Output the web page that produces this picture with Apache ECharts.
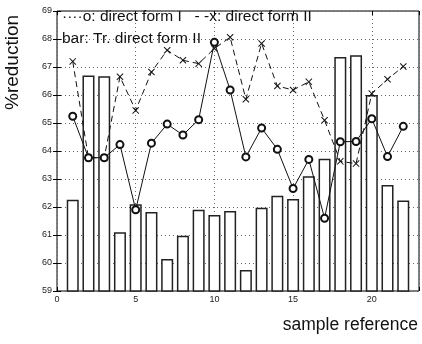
<!DOCTYPE html>
<html>
<head>
<meta charset="utf-8">
<style>
  html, body { margin: 0; padding: 0; background: #fff; }
  #main { width: 422px; height: 344px; }
</style>
</head>
<body>
<div id="main"></div>
<script src="https://cdn.jsdelivr.net/npm/echarts@6/dist/echarts.min.js"></script>
<script>
// sample reference numbers 1..22
var samples = [1, 2, 3, 4, 5, 6, 7, 8, 9, 10, 11, 12, 13, 14, 15, 16, 17, 18, 19, 20, 21, 22];
// o: direct form I
var formI = [65.24, 63.76, 63.76, 64.23, 61.9, 64.28, 64.96, 64.57, 65.12, 67.88, 66.18,
             63.79, 64.82, 64.06, 62.66, 63.7, 61.6, 64.33, 64.34, 65.15, 63.8, 64.88];
// x: direct form II
var formII = [67.2, 63.76, 63.76, 66.65, 65.45, 66.82, 67.6, 67.24, 67.12, 67.66, 68.06,
              65.85, 67.84, 66.32, 66.18, 66.47, 65.1, 63.63, 63.55, 66.05, 66.56, 67.02];
// bar: Tr. direct form II
var trFormII = [62.26, 66.7, 66.67, 61.1, 62.1, 61.82, 60.14, 60.97, 61.9, 61.71, 61.86,
                59.75, 61.97, 62.4, 62.29, 63.1, 63.72, 67.36, 67.42, 66.0, 62.79, 62.23];
var xTicks = [0, 5, 10, 15, 20];

function pairs(vals) {
  return samples.map(function (s, i) { return [s, vals[i]]; });
}

var crossPath = 'path://M0,1L1,0L5,4L9,0L10,1L6,5L10,9L9,10L5,6L1,10L0,9L4,5Z';
var font = 'Liberation Sans, Arial, sans-serif';

var chart = echarts.init(document.getElementById('main'));
var option = {
  animation: false,
  grid: { left: 57, right: 2, top: 11, bottom: 53, show: true, borderColor: '#000', borderWidth: 1 },
  xAxis: [{
    type: 'value', min: 0, max: 23, interval: 5,
    axisLine: { show: false },
    axisTick: { show: true, inside: true, length: 4, lineStyle: { color: '#000' } },
    axisLabel: {
      fontSize: 9, color: '#222', fontFamily: font, margin: 4,
      formatter: function (v) { return xTicks.indexOf(v) >= 0 ? String(v) : ''; }
    },
    splitLine: { show: true, lineStyle: { color: '#666', type: [1, 3], width: 1 } }
  }, {
    type: 'value', min: 0, max: 23, interval: 5, position: 'top',
    axisLine: { show: false }, axisLabel: { show: false }, splitLine: { show: false },
    axisTick: { show: true, inside: true, length: 4, lineStyle: { color: '#000' } }
  }],
  yAxis: [{
    type: 'value', min: 59, max: 69, interval: 1,
    axisLine: { show: false },
    axisTick: { show: true, inside: true, length: 4, lineStyle: { color: '#000' } },
    axisLabel: { fontSize: 9, color: '#222', fontFamily: font, margin: 5 },
    splitLine: { show: true, lineStyle: { color: '#666', type: [1, 3], width: 1 } }
  }, {
    type: 'value', min: 59, max: 69, interval: 1, position: 'right',
    axisLine: { show: false }, axisLabel: { show: false }, splitLine: { show: false },
    axisTick: { show: true, inside: true, length: 4, lineStyle: { color: '#000' } }
  }],
  series: [{
    name: 'Tr. direct form II',
    type: 'bar',
    data: pairs(trFormII),
    barWidth: 12,
    itemStyle: { color: '#fff', borderColor: '#222', borderWidth: 1.5 },
    z: 1
  }, {
    name: 'direct form II',
    type: 'line',
    data: pairs(formII),
    symbol: crossPath,
    symbolSize: 7,
    lineStyle: { color: '#111', width: 1, type: [6, 4] },
    itemStyle: { color: '#111' },
    z: 3
  }, {
    name: 'direct form I',
    type: 'line',
    data: pairs(formI),
    symbol: 'emptyCircle',
    symbolSize: 7,
    lineStyle: { color: '#111', width: 1 },
    itemStyle: { color: '#111', borderColor: '#111', borderWidth: 0.8 },
    z: 4
  }],
  graphic: [{
    type: 'text', left: 62, top: 9,
    style: { text: '····o: direct form I   - -x: direct form II', font: '15.5px ' + font, fill: '#111' },
    z: 10
  }, {
    type: 'text', left: 62, top: 31,
    style: { text: 'bar: Tr. direct form II', font: '15.5px ' + font, fill: '#111' },
    z: 10
  }, {
    type: 'text', x: 3, y: 110, rotation: Math.PI / 2,
    style: { text: '%reduction', font: '19px ' + font, fill: '#111' }
  }, {
    type: 'text', right: 4, top: 316,
    style: { text: 'sample reference', font: '17.5px ' + font, fill: '#111' }
  }]
};
chart.setOption(option);
</script>
</body>
</html>
